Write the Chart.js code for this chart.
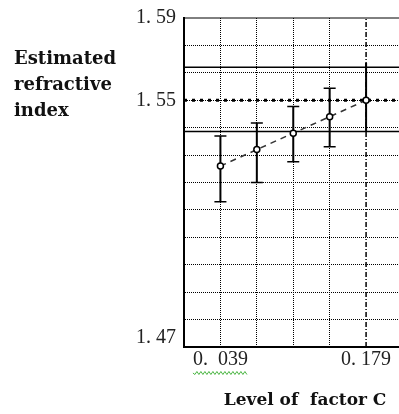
<!DOCTYPE html>
<html>
<head>
<meta charset="utf-8">
<script src="https://cdn.jsdelivr.net/npm/chart.js@4"></script>
<style>
html, body { margin: 0; padding: 0; overflow: hidden; background: #fff; }
#wrap { position: relative; width: 410px; height: 414px; }
#ytitle { position: absolute; left: 14px; top: 45px; font: bold 18px 'DejaVu Serif'; line-height: 26px; color: #111; }
</style>
</head>
<body>
<div id="wrap">
  <canvas id="grafico"></canvas>
  <div id="ytitle">Estimated<br>refractive<br>index</div>
</div>
<script>
// niveles del factor C y estimaciones
const cLevels = [0.039, 0.074, 0.109, 0.144, 0.179]
const estimate = [1.536, 1.542, 1.548, 1.554, 1.560]
const lower = [1.523, 1.530, 1.5376, 1.543, 1.5485]
const upper = [1.547, 1.5517, 1.5577, 1.5644, 1.5736]
const capSize = [6, 6, 6, 6, 0]

// limites y marcadores
const upperLimit = 1.572
const lowerLimit = 1.5486
const targetY = 1.56
const markerX = 0.179

// ejes
const xMin = 0.004
const xMax = 0.214
const xTicks = [0.004, 0.039, 0.074, 0.109, 0.144, 0.179, 0.214]
const xTickLabels = ['', '0.  039', '', '', '', '0. 179', '']
const yMin = 1.47
const yMax = 1.59
const yTicks = [1.47, 1.48, 1.49, 1.50, 1.51, 1.52, 1.53, 1.54, 1.55, 1.56, 1.57, 1.58, 1.59]
const yTickLabels = [['1. 47', ''], '', '', '', '', '', '', '', '', '1. 55', '', '', '1. 59']

const numFont = { family: 'Liberation Serif', size: 20, lineHeight: 0.9 }

function hline(y, opts) {
    return Object.assign({
        data: [{ x: xMin, y: y }, { x: xMax, y: y }],
        borderColor: '#000', borderWidth: 1.5, pointRadius: 0, order: 5
    }, opts)
}

// datasets
const datasets = [{
    data: cLevels.map((c, i) => ({ x: c, y: estimate[i] })),
    borderColor: '#333', borderWidth: 1.5, borderDash: [6, 5],
    pointRadius: 3, pointBackgroundColor: '#fff', pointBorderColor: '#000', pointBorderWidth: 1.5,
    order: 0
}]

// barras de error
cLevels.forEach((c, i) => {
    datasets.push({
        data: [{ x: c, y: lower[i] }, { x: c, y: upper[i] }],
        borderColor: '#000', borderWidth: 2,
        pointStyle: 'line', pointRadius: capSize[i], pointBorderWidth: 1.5, pointBorderColor: '#000',
        order: 1
    })
})

datasets.push(hline(upperLimit, {}))
datasets.push(hline(lowerLimit, {}))
datasets.push(hline(targetY, { borderWidth: 3, borderDash: [3, 5] }))
datasets.push(hline(yMax, { borderWidth: 1, clip: false }))
datasets.push({
    data: [{ x: markerX, y: yMin }, { x: markerX, y: yMax }],
    borderColor: '#000', borderWidth: 1.5, borderDash: [5, 2, 1, 2], pointRadius: 0, order: 6
})

// subrayado verde bajo la primera etiqueta
const squiggle = {
    id: 'squiggle',
    afterDraw(chart) {
        const sx = chart.scales.x
        const ctx = chart.ctx
        ctx.save()
        ctx.font = numFont.size + 'px ' + numFont.family
        const w = ctx.measureText(xTickLabels[1]).width
        const cx = sx.getPixelForValue(cLevels[0])
        const y0 = sx.top + 26
        ctx.strokeStyle = '#4bb543'
        ctx.lineWidth = 1
        ctx.beginPath()
        let up = true
        for (let px = cx - w / 2; px <= cx + w / 2; px += 2) {
            if (px === cx - w / 2) ctx.moveTo(px, y0)
            else ctx.lineTo(px, up ? y0 - 1.5 : y0 + 1.5)
            up = !up
        }
        ctx.stroke()
        ctx.restore()
    }
}

const options = {
    responsive: true,
    maintainAspectRatio: false,
    animation: false,
    events: [],
    layout: { padding: { top: 18, right: 6, left: 0, bottom: 0 } },
    plugins: { legend: { display: false }, tooltip: { enabled: false } },
    scales: {
        x: {
            type: 'linear', min: xMin, max: xMax,
            afterBuildTicks: s => { s.ticks = xTicks.map(v => ({ value: v })) },
            afterFit: s => { s.height = 67 },
            grid: {
                color: ctx => (ctx.index === 0 || ctx.index === 5) ? 'rgba(0,0,0,0)' : '#000',
                lineWidth: 1, drawTicks: false
            },
            border: { display: true, color: '#000', width: 2, dash: [1, 1] },
            ticks: {
                callback: (v, i) => xTickLabels[i],
                padding: 4, font: numFont, color: '#222', maxRotation: 0, autoSkip: false
            },
            title: {
                display: true, text: '    Level of  factor C', color: '#111',
                font: { family: 'DejaVu Serif', size: 17, weight: 'bold' },
                padding: { top: 0, bottom: 3 }
            }
        },
        y: {
            type: 'linear', min: yMin, max: yMax,
            afterBuildTicks: s => { s.ticks = yTicks.map(v => ({ value: v })) },
            afterFit: s => { s.width = 184 },
            grid: {
                color: ctx => (ctx.index === 0 || ctx.index === 12) ? 'rgba(0,0,0,0)' : '#000',
                lineWidth: 1, drawTicks: false
            },
            border: { display: true, color: '#000', width: 2, dash: [1, 1] },
            ticks: {
                callback: (v, i) => yTickLabels[i],
                padding: 8, font: numFont, color: '#222', autoSkip: false
            }
        }
    }
}

const ctx = document.getElementById('grafico').getContext('2d')
const mychar = new Chart(ctx, { type: 'line', data: { datasets }, options, plugins: [squiggle] })
</script>
</body>
</html>
